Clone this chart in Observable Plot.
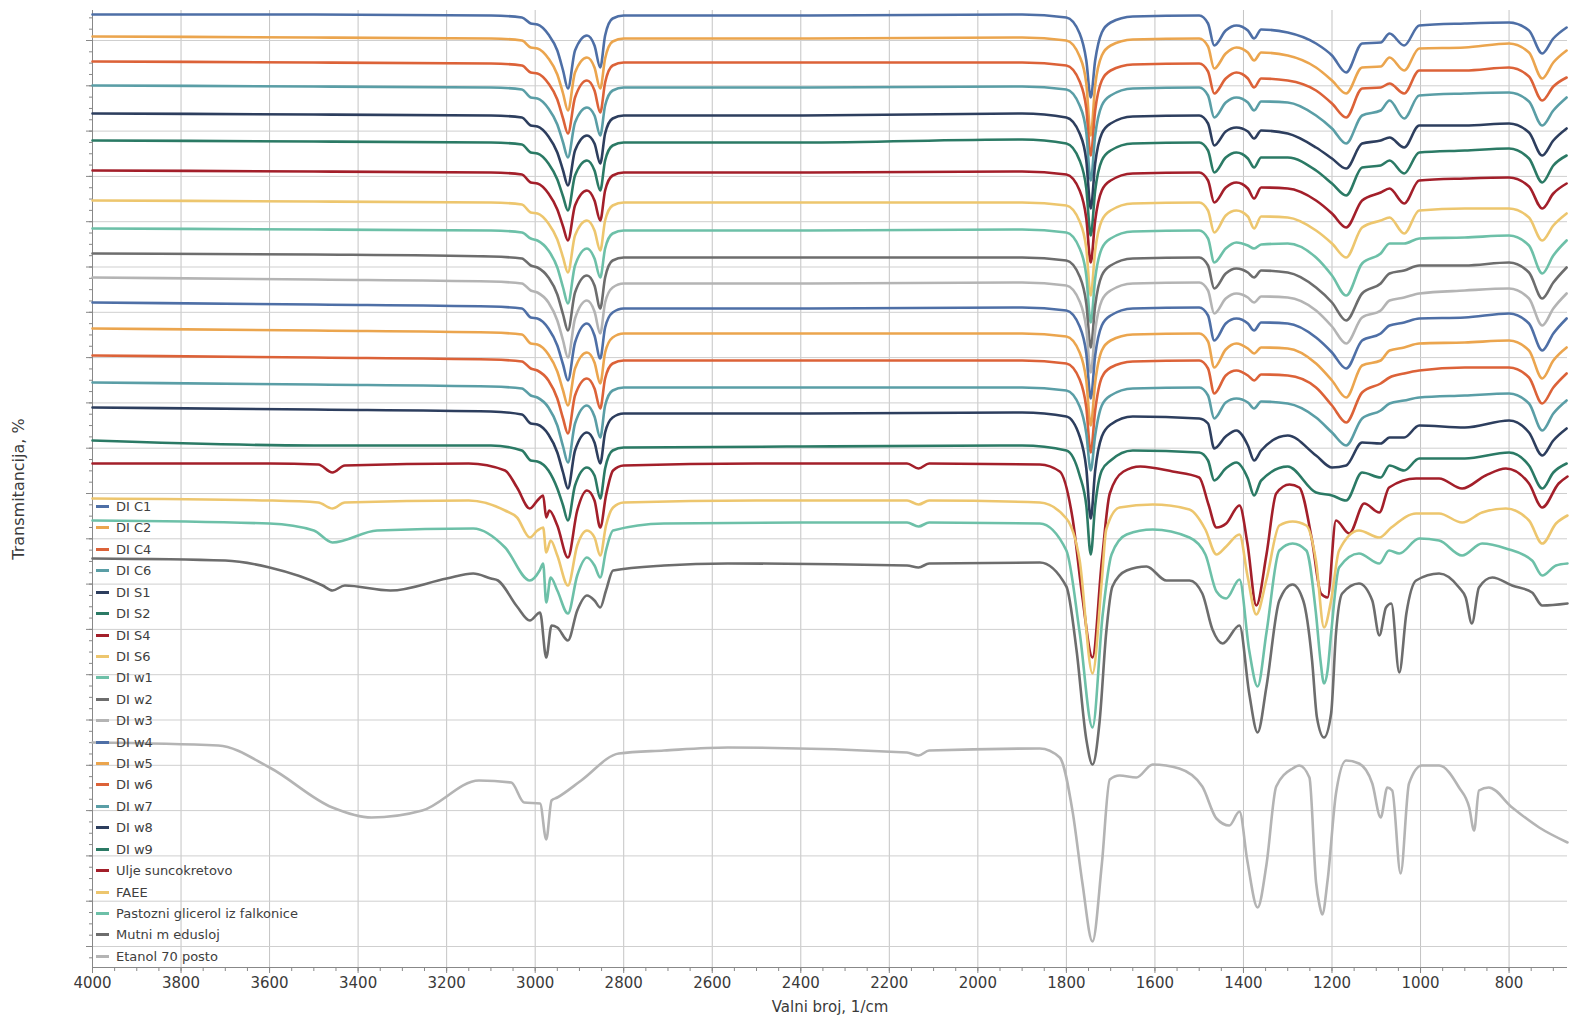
<!DOCTYPE html>
<html>
<head>
<meta charset="utf-8">
<script src="https://cdn.jsdelivr.net/npm/d3@7"></script>
<script src="https://cdn.jsdelivr.net/npm/@observablehq/plot@0.6"></script>
<style>
  html, body { margin: 0; padding: 0; background: #fff; }
  #wrap { position: relative; width: 1580px; height: 1020px; }
  #legend { position: absolute; left: 96px; top: 496px; font-family: "DejaVu Sans", sans-serif; font-size: 13px; color: #404040; }
  #legend .row { height: 21.43px; line-height: 21.43px; white-space: nowrap; }
  #legend .sw { display: inline-block; width: 13px; height: 3px; vertical-align: middle; margin-right: 7px; position: relative; top: -1px; }
</style>
</head>
<body>
<div id="wrap"><div id="legend"></div></div>
<script>
// Wavenumber grid shared by the DI spectra (1/cm)
const wnDI = [4000,3500,3100,3030,3010,2995,2970,2950,2937,2926,2910,2883,2866,2853,2842,2825,2800,2400,1900,1800,1770,1755,1745,1735,1720,1700,1650,1500,1480,1466,1440,1416,1390,1376,1360,1300,1236,1200,1168,1132,1090,1070,1037,1003,900,800,755,725,700,670];

// Transmittance values (offset stack, %)
const diC1 = [98.6,98.6,98.5,98.3,97.7,97.6,96.6,95,93,91.2,95,96.5,95.5,93.3,96.5,98.2,98.5,98.5,98.6,98.3,96.7,94,90.3,94,96.8,97.8,98.4,98.5,97.7,95.5,97,97.5,97,96.2,97.1,96.8,95.7,94.5,92.8,95.7,95.8,96.7,95.5,97.5,97.7,97.8,97,94.7,96.2,97.3];
const diC2 = [96.4,96.3,96.2,96,95.3,95.2,94.2,92.6,90.7,89,92.8,94.3,93.3,91.2,94.2,95.9,96.2,96.2,96.3,96,94.4,91.7,86.5,91.5,94.5,95.5,96.1,96.2,95.4,93.2,94.7,95.3,94.8,94,94.8,94.5,93.3,92,90.7,93.3,93.4,94.3,93,95.2,95.3,95.7,94.8,92.2,93.8,95];
const diC4 = [93.9,93.8,93.7,93.5,92.8,92.7,91.7,90.1,88.2,86.7,90.3,92,91,88.8,91.8,93.5,93.8,93.8,93.8,93.5,91.9,89.2,84.5,89,92,93,93.6,93.7,92.9,90.7,92.2,92.8,92.2,91.3,92.2,92,91,89.7,88.3,91.2,91.3,91.7,90.7,93,93,93.3,92.4,90,91.4,92.3];
const diC6 = [91.5,91.4,91.3,91.1,90.3,90.2,89.2,87.6,85.8,84.3,87.8,89.3,88.5,86.5,89.5,91,91.3,91.3,91.4,91.1,89.5,86.8,82,86.5,89.5,90.5,91.2,91.3,90.5,88.3,89.8,90.3,89.8,89,89.9,89.8,88.5,87.2,85.7,88.5,89,90,88.2,90.5,90.7,90.8,89.9,87.5,89,90.3];
const diS1 = [88.7,88.6,88.5,88.3,87.5,87.4,86.4,84.8,83,81.5,85,86.5,85.7,83.7,86.7,88.2,88.5,88.5,88.7,88.3,86.7,84,79.2,83.7,86.7,87.7,88.4,88.5,87.7,85.5,86.9,87.3,86.9,86.2,87,86.7,85.3,84.2,83.2,85.7,86,86.3,85.3,87.5,87.5,87.7,86.8,84.5,86,87.2];
const diS2 = [86,85.9,85.8,85.6,84.8,84.7,83.7,82.1,80.4,79,82.5,84,83,81,84,85.5,85.8,85.8,86.1,85.7,84,81.2,76.5,81,84,85,85.7,85.8,85,82.8,84.3,84.8,84.2,83.3,84.3,84.3,83,81.7,80.5,83.3,83.5,84,82.7,84.8,85,85.2,84.2,81.8,83.5,84.5];
const diS4 = [83,82.9,82.8,82.6,81.8,81.7,80.7,79.1,77.4,76,79.5,81,80,78,81,82.5,82.8,82.8,82.9,82.6,81,78.2,73.8,78,81,82,82.7,82.8,82,79.8,81.3,81.8,81.2,80.2,81.3,81.2,80,78.7,77.3,80,80.8,81.2,79.7,82,82.2,82.3,81.4,79.2,80.7,81.7];
const diS6 = [80,79.9,79.8,79.6,78.8,78.7,77.7,76.1,74.3,72.8,76.5,78,77,75,78,79.5,79.8,79.8,79.8,79.5,77.9,75.2,70.5,75,78,79,79.7,79.8,79,76.8,78.5,79,78.4,77.2,78.4,78.3,77,75.7,74.3,77.3,78,78.3,76.7,79,79.2,79.2,78.3,76,77.5,78.7];
const diW1 = [77.2,77.1,77,76.8,76.2,76,75,73.3,71.3,69.7,73.5,75.2,74.2,72.3,75.2,76.7,77,77,77.1,76.8,75.2,72.5,67.8,72.2,75.2,76.2,76.9,77,76.2,73.8,75.2,75.8,75.5,75.2,75.6,75.7,74.3,72.5,70.5,73.7,74.7,75.7,75.7,76.2,76.3,76.5,75.5,72.7,74.5,76];
const diW2 = [74.7,74.6,74.4,74.2,73.5,73.3,72.3,70.6,68.6,67,70.8,72.5,71.5,69.2,72.3,74,74.3,74.3,74.3,74,72.4,69.7,65.3,69.5,72.5,73.5,74.2,74.3,73.5,71.2,72.7,73.2,72.8,72.3,73,72.8,71.3,69.8,68,70.7,71.7,72.7,73,73.5,73.5,73.8,72.8,70.2,71.8,73.3];
const diW3 = [72.3,72.1,71.9,71.7,71,70.8,69.8,68,66,64.3,68.2,70,68.9,66.7,69.8,71.3,71.7,71.7,71.8,71.5,69.9,67.2,62.8,67,70,71,71.7,71.8,71,68.7,70.2,70.7,70.3,69.8,70.4,70.3,69,67.4,65.7,68.3,69,70,70.3,70.7,71,71.2,70.2,67.5,69.2,70.7];
const diW4 = [69.8,69.6,69.4,69.2,68.3,68.2,67.2,65.5,63.6,62,65.8,67.7,66.5,64.2,67.3,68.8,69.2,69.2,69.3,69,67.4,64.7,60.2,64.5,67.5,68.5,69.2,69.3,68.5,66,67.7,68.2,67.7,67,67.8,67.7,66.3,64.8,63.2,66,66.7,67.5,67.8,68.2,68.3,68.7,67.7,65,66.7,68.2];
const diW5 = [67.2,67,66.8,66.6,65.7,65.6,64.6,62.9,61,59.5,63.2,64.8,63.8,61.7,64.8,66.3,66.7,66.7,66.7,66.4,64.8,62,57.5,61.8,65,66,66.6,66.7,65.9,63.3,65.1,65.7,65.2,64.7,65.3,65.2,63.7,62,60.3,63.5,64,65,65.3,65.7,65.8,66,65,62.2,64,65.3];
const diW6 = [64.5,64.3,64.1,63.9,63.2,63,62,60.2,58.2,56.7,60.5,62.2,61.2,59.2,62.2,63.7,64,64,64,63.7,62.1,59.3,54.8,59,62.3,63.3,63.9,64,63.2,60.7,62.5,63,62.5,62,62.6,62.5,61.3,59.5,57.8,60.8,61.7,62.3,62.7,63,63.3,63.3,62.3,59.7,61.3,62.7];
const diW7 = [61.8,61.6,61.4,61.2,60.5,60.3,59.3,57.5,55.4,53.8,57.7,59.5,58.4,56.3,59.5,61,61.3,61.3,61.3,61,59.4,56.7,53,56.5,59.5,60.5,61.2,61.3,60.5,58.2,59.8,60.2,59.8,59.2,59.9,59.7,58.3,56.8,55.5,58.2,59,59.7,60,60.3,60.5,60.7,59.7,57,58.7,60];
const diW8 = [59.3,59.1,58.9,58.6,57.7,57.6,56.6,54.8,52.8,51.2,55,56.8,55.8,53.7,56.8,58.3,58.7,58.7,58.8,58.4,56.4,53.2,48.2,53,56.4,57.6,58.4,58.2,57.7,55.2,56.4,57,55.5,54,55,56.5,54.5,53.3,53.5,55.8,55.7,56.3,56.3,57.5,57.3,58,56.8,54.5,56,57.2];
const diW9 = [56,55.5,55.5,55,54,53.9,53,51.2,49.5,48,51.5,53.3,52.5,50.2,53.2,55,55.3,55.4,55.5,55,52.5,49.5,44.6,49.5,53,54,55,54.8,54,52,53.2,53.8,52.2,50.5,52,53.4,50.8,50.5,50,52.8,52.3,53.5,53,54.2,54.2,54.8,53.5,51.2,52.8,53.7];

// Reference spectra: [wavenumber, transmittance]
const ulje = [[4000,53.7],[3600,53.7],[3490,53.6],[3458,52.8],[3430,53.5],[3150,53.7],[3068,53],[3041,51.3],[3012,49.2],[2995,50],[2982,50.5],[2975,48.3],[2968,49],[2950,47.5],[2926,44.3],[2905,49],[2883,51],[2866,50],[2853,47.3],[2840,50.5],[2824,53],[2800,53.5],[2500,53.7],[2160,53.7],[2134,53.2],[2110,53.7],[1860,53.6],[1815,52.9],[1786,48.2],[1764,40.4],[1741,34.3],[1720,43.9],[1702,50.7],[1671,52.9],[1633,53.4],[1560,52.9],[1500,52.3],[1479,49.6],[1461,47.3],[1439,47.7],[1409,49.5],[1391,45.7],[1371,39.5],[1348,44.6],[1326,50.7],[1296,51.6],[1274,51.3],[1245,46],[1225,40.7],[1210,40.3],[1191,48],[1161,46.7],[1127,49.7],[1093,48.8],[1071,51.3],[1010,52.2],[958,52.2],[906,51.2],[853,52.5],[807,53.2],[755,51.7],[725,49.3],[688,51.7],[668,52.4]];
const faee = [[4000,50.2],[3600,50],[3490,49.8],[3458,49.2],[3430,49.8],[3150,50],[3068,49],[3041,48.3],[3012,46.3],[2995,47],[2982,47.3],[2975,44.8],[2965,46],[2950,44.5],[2926,41.5],[2905,45.5],[2883,47],[2866,46.3],[2853,44.5],[2840,47.5],[2824,49.3],[2800,49.8],[2500,50],[2160,50],[2134,49.6],[2110,50],[1860,49.8],[1800,48.2],[1770,44],[1741,32.7],[1720,42],[1710,47.1],[1680,49.3],[1605,49.6],[1522,49.1],[1486,47.1],[1461,44.6],[1439,45.4],[1409,46.6],[1391,42.5],[1371,38.6],[1348,42.1],[1319,47.5],[1289,47.9],[1258,47.5],[1236,43.9],[1218,37.3],[1202,40],[1184,45],[1139,47],[1093,46.3],[1066,47.3],[1010,48.7],[958,48.7],[906,47.8],[861,48.8],[807,49.2],[755,48],[725,45.7],[694,47.7],[668,48.5]];
const pastozni = [[4000,48],[3600,47.7],[3500,47],[3458,45.8],[3357,47],[3140,47.2],[3068,45.3],[3012,42],[2990,43],[2982,43.7],[2975,39.8],[2965,42.3],[2950,41],[2926,38.7],[2905,42.5],[2883,44.3],[2866,43.5],[2853,42.3],[2840,45],[2824,47],[2709,47.7],[2400,47.8],[2160,47.8],[2134,47.4],[2110,47.8],[1860,47.7],[1800,45],[1770,36.8],[1741,27.3],[1718,38.6],[1698,44.6],[1664,46.6],[1605,47.1],[1522,46.3],[1486,44.6],[1461,40.9],[1439,40.2],[1409,42.1],[1387,35],[1368,31.4],[1348,36.8],[1319,45],[1289,45.7],[1258,45],[1236,38.6],[1226,34],[1218,31.7],[1210,33],[1202,36.7],[1184,43.3],[1139,44.7],[1093,43.7],[1071,45],[1048,44.7],[1003,46.2],[958,46],[906,44.5],[861,45.7],[807,45.2],[748,44],[725,42.5],[694,43.5],[668,43.7]];
const mutni = [[4000,44.2],[3700,44],[3600,43.3],[3480,41.5],[3458,41],[3430,41.5],[3327,41],[3200,42.2],[3140,42.7],[3100,42.2],[3084,42],[3041,39.4],[3012,38],[2989,38.8],[2975,34.3],[2963,37.5],[2950,37.3],[2926,36],[2905,39],[2883,40.5],[2866,40],[2853,39.3],[2840,41],[2824,43],[2709,43.5],[2565,43.7],[2160,43.5],[2134,43.3],[2110,43.7],[1860,43.8],[1800,41.4],[1777,35],[1755,26.1],[1741,23.6],[1725,27.9],[1710,36.8],[1696,41.4],[1664,43],[1619,43.4],[1574,42],[1522,42],[1493,40.7],[1470,37.1],[1447,35.7],[1409,37.5],[1387,30.7],[1368,26.8],[1348,31.4],[1319,40],[1289,41.6],[1265,40],[1245,34],[1234,28.3],[1218,26.3],[1202,28.7],[1191,36.7],[1177,40.7],[1139,41.7],[1109,40],[1093,36.5],[1078,39.3],[1066,39.7],[1048,32.8],[1032,38.7],[1010,42],[958,42.7],[913,41.3],[898,40.3],[884,37.7],[868,41.3],[838,42.3],[793,41.5],[748,40.8],[725,39.5],[668,39.7]];
const etanol = [[4000,25.8],[3716,25.5],[3600,23.3],[3458,19.3],[3370,18.3],[3255,19],[3127,22],[3054,21.8],[3025,19.8],[2989,19.7],[2975,16.1],[2963,20],[2950,20.3],[2896,22],[2811,24.7],[2709,25],[2565,25.3],[2160,24.8],[2134,24.5],[2110,25],[1860,25.2],[1815,24.3],[1786,18.9],[1764,11.8],[1741,5.9],[1720,13.6],[1702,22.1],[1680,22.5],[1642,22.3],[1605,23.6],[1545,23.2],[1493,21.4],[1461,18.2],[1432,17.5],[1409,18.9],[1391,13.9],[1368,9.3],[1348,13.6],[1326,21.4],[1289,23.2],[1274,23.5],[1251,22.3],[1236,11.8],[1228,9.5],[1222,8.6],[1210,12],[1191,20.7],[1168,24],[1139,23.7],[1109,21.7],[1090,18.3],[1075,21.3],[1064,21],[1045,12.7],[1026,21.7],[997,23.5],[958,23.5],[913,21.3],[890,19.3],[879,17],[868,21],[846,21.3],[793,19.3],[732,17.3],[668,15.8]];

const seriesNames = ["DI C1","DI C2","DI C4","DI C6","DI S1","DI S2","DI S4","DI S6","DI w1","DI w2","DI w3","DI w4","DI w5","DI w6","DI w7","DI w8","DI w9","Ulje suncokretovo","FAEE","Pastozni glicerol iz falkonice","Mutni m edusloj","Etanol 70 posto"];
const palette = ["#4e6fa6","#eba54e","#dc6238","#5a9ea6","#2d3e5e","#2b7a65","#a31f2a","#edc66e","#6dc0a8","#6d6d6d","#b4b4b4"];
const seriesColors = seriesNames.map((_, i) => palette[i % palette.length]);

const diValues = [diC1,diC2,diC4,diC6,diS1,diS2,diS4,diS6,diW1,diW2,diW3,diW4,diW5,diW6,diW7,diW8,diW9];
const refValues = [ulje, faee, pastozni, mutni, etanol];

// Axis ticks
const xTicks = [4000,3800,3600,3400,3200,3000,2800,2600,2400,2200,2000,1800,1600,1400,1200,1000,800];
const xMinor = d3.range(700, 4001, 50);
const yGrid = d3.range(0, 21).map(k => 5.4 + 4.53 * k);
const yMinor = d3.range(0, 85).map(k => 5.4 + 1.1325 * (k - 1)).filter(v => v > 3.3 && v < 99);

const rows = [];
diValues.forEach((vals, i) => {
  wnDI.forEach((w, j) => { if (vals[j] !== undefined) rows.push({name: seriesNames[i], order: i, wn: w, t: vals[j]}); });
});
refValues.forEach((pairs, k) => {
  const i = 17 + k;
  pairs.forEach(([w, t]) => rows.push({name: seriesNames[i], order: i, wn: w, t}));
});

const chart = Plot.plot({
  width: 1580,
  height: 1020,
  marginLeft: 92,
  marginRight: 13,
  marginTop: 10,
  marginBottom: 53,
  style: {fontFamily: "DejaVu Sans, sans-serif", fontSize: "15px", color: "#3a3a3a", background: "#fff", overflow: "visible"},
  x: {domain: [4000, 668]},
  y: {domain: [3.3, 99]},
  color: {domain: seriesNames, range: seriesColors},
  marks: [
    Plot.gridX(xTicks, {stroke: "#c4c4c4", strokeOpacity: 1, strokeWidth: 1}),
    Plot.gridY(yGrid, {stroke: "#cfcfcf", strokeOpacity: 1, strokeWidth: 1}),
    Plot.axisX(xMinor, {tickSize: 4, tickFormat: () => "", label: null, stroke: "#888"}),
    Plot.axisX(xTicks, {tickSize: 6, tickPadding: 4, stroke: "#888", tickFormat: d => String(d), label: "Valni broj, 1/cm", labelAnchor: "center", labelArrow: "none", labelOffset: 44, fontSize: 15}),
    Plot.axisY(yMinor, {tickSize: 3, tickFormat: () => "", label: null, stroke: "#888"}),
    Plot.axisY(yGrid, {tickSize: 6, tickFormat: () => "", stroke: "#888", label: "Transmitancija, %", labelAnchor: "center", labelArrow: "none", labelOffset: 80, fontSize: 16}),
    Plot.ruleX([4000], {stroke: "#888"}),
    Plot.ruleY([3.3], {stroke: "#888"}),
    Plot.line(rows, {x: "wn", y: "t", z: "name", stroke: "name", strokeWidth: 2.6, curve: "monotone-x"})
  ]
});

const wrap = document.getElementById("wrap");
wrap.insertBefore(chart, wrap.firstChild);

const legend = document.getElementById("legend");
seriesNames.forEach((n, i) => {
  const row = document.createElement("div");
  row.className = "row";
  const sw = document.createElement("span");
  sw.className = "sw";
  sw.style.background = seriesColors[i];
  row.appendChild(sw);
  row.appendChild(document.createTextNode(n));
  legend.appendChild(row);
});
</script>
</body>
</html>
